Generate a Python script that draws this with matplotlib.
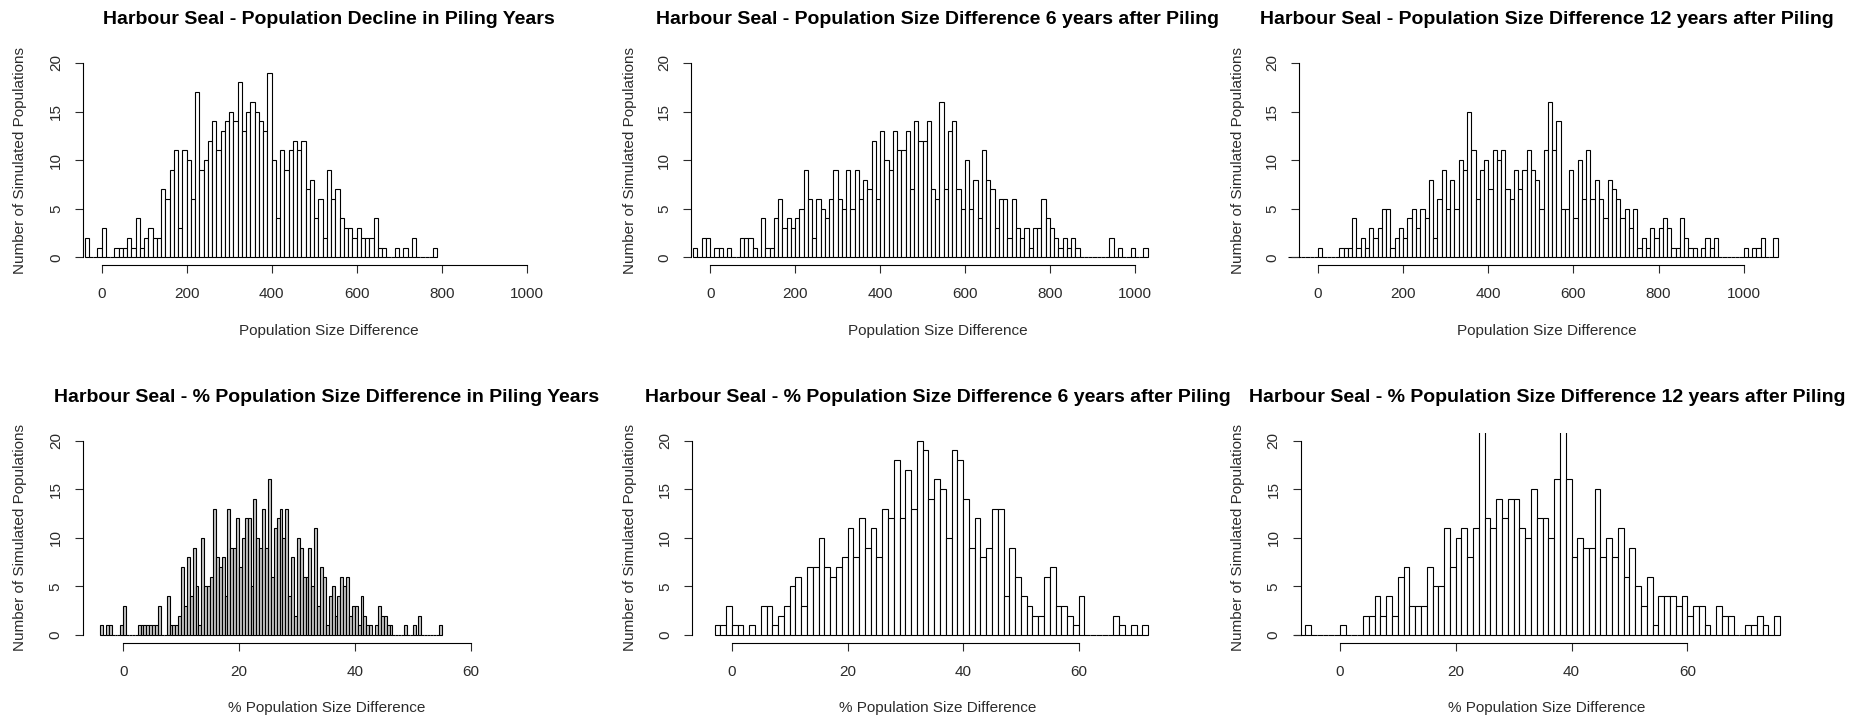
import matplotlib
matplotlib.use("Agg")
import matplotlib.pyplot as plt

plt.rcParams['font.family'] = ['Liberation Sans', 'DejaVu Sans']

W, H = 1852, 720

# counts per bin, read left to right
decline_start, decline_step = -40, 10
decline_counts = [2, 0, 0, 1, 3, 0, 0, 1, 1, 1, 2, 1, 4, 1, 2, 3, 2, 2, 7, 6,
                  9, 11, 3, 11, 10, 6, 17, 9, 10, 12, 14, 11, 13, 14, 15, 14, 18, 13, 15, 16,
                  15, 14, 13, 19, 10, 4, 11, 9, 11, 12, 11, 12, 7, 8, 4, 6, 2, 9, 6, 7,
                  4, 3, 3, 2, 3, 2, 2, 2, 4, 1, 1, 0, 0, 1, 0, 1, 0, 2, 0, 0,
                  0, 0, 1]

diff6_start, diff6_step = -40, 10
diff6_counts = [1, 0, 2, 2, 0, 1, 1, 0, 1, 0, 0, 2, 2, 2, 1, 0, 4, 1, 1, 4,
                6, 3, 4, 3, 4, 5, 9, 6, 2, 6, 5, 4, 6, 9, 6, 5, 9, 5, 9, 6,
                8, 7, 12, 6, 13, 10, 9, 13, 11, 11, 13, 7, 14, 12, 12, 14, 7, 6, 16, 7,
                13, 14, 7, 5, 10, 5, 8, 4, 11, 8, 7, 3, 6, 6, 2, 6, 3, 2, 3, 1,
                3, 3, 6, 4, 3, 2, 1, 2, 1, 2, 1, 0, 0, 0, 0, 0, 0, 0, 2, 0,
                1, 0, 0, 1, 0, 0, 1]

diff12_start, diff12_step = -70, 10
diff12_counts = [0, 0, 0, 0, 0, 0, 0, 1, 0, 0, 0, 0, 1, 1, 1, 4, 1, 2, 1, 3,
                 2, 3, 5, 5, 1, 2, 3, 2, 4, 5, 3, 5, 4, 8, 2, 6, 9, 5, 8, 5,
                 10, 9, 15, 11, 6, 9, 10, 7, 11, 10, 11, 7, 6, 9, 7, 9, 11, 9, 8, 5,
                 11, 16, 11, 14, 5, 5, 9, 4, 10, 6, 11, 6, 8, 6, 4, 8, 7, 6, 4, 5,
                 3, 5, 1, 2, 1, 3, 2, 3, 4, 3, 1, 1, 4, 2, 1, 1, 0, 1, 2, 1,
                 2, 0, 0, 0, 0, 0, 0, 1, 0, 1, 1, 2, 0, 0, 2]

pct_start, pct_step = -4, 0.5
pct_counts = [1, 0, 1, 1, 0, 0, 0, 1, 3, 0, 0, 0, 0, 1, 1, 1, 1, 1, 1, 1,
              3, 0, 0, 4, 1, 1, 1, 2, 7, 3, 8, 4, 9, 5, 1, 10, 5, 5, 6, 13,
              8, 7, 8, 4, 13, 9, 9, 12, 7, 10, 12, 12, 5, 14, 10, 9, 13, 9, 16, 6,
              11, 12, 13, 10, 13, 4, 8, 2, 10, 9, 6, 6, 9, 5, 11, 3, 7, 6, 1, 4,
              5, 2, 4, 6, 5, 6, 2, 3, 3, 1, 4, 2, 1, 1, 0, 1, 3, 2, 2, 1,
              1, 0, 0, 0, 0, 1, 0, 0, 1, 0, 2, 0, 0, 0, 0, 0, 0, 1]

pct6_start, pct6_step = -3, 1
pct6_counts = [1, 1, 3, 1, 1, 0, 1, 0, 3, 3, 1, 2, 3, 5, 6, 3, 7, 7, 10, 7,
               6, 7, 8, 11, 8, 12, 9, 11, 8, 13, 12, 18, 12, 17, 13, 20, 19, 14, 16, 15,
               10, 19, 18, 14, 9, 12, 8, 9, 13, 13, 4, 9, 6, 4, 3, 2, 2, 6, 7, 3,
               3, 2, 1, 4, 0, 0, 0, 0, 0, 2, 1, 0, 1, 0, 1]

pct12_start, pct12_step = -8, 1
pct12_counts = [0, 0, 1, 0, 0, 0, 0, 0, 1, 0, 0, 0, 2, 2, 4, 2, 4, 2, 6, 7,
                3, 3, 3, 7, 5, 5, 11, 7, 10, 11, 8, 11, 23, 12, 11, 14, 12, 14, 14, 11,
                10, 15, 12, 12, 10, 16, 23, 16, 8, 10, 9, 9, 15, 8, 10, 8, 11, 6, 9, 5,
                3, 6, 1, 4, 4, 4, 3, 4, 2, 3, 3, 1, 0, 3, 2, 2, 0, 0, 1, 1,
                2, 1, 0, 2]

size_ticks = [0, 200, 400, 600, 800, 1000]
pct_ticks = [0, 20, 40, 60]
count_ticks = [0, 5, 10, 15, 20]

fig = plt.figure(figsize=(W / 100, H / 100), dpi=100)
fig.patch.set_facecolor('white')

TXT = '#2b2b2b'


def panel(axis_px, zero_px, ppu, base_px, counts, start, step, xticks,
          title, xlabel, cx, title_y, xlabel_y, ylabel_x, fill='white'):
    ppc = 9.72
    ax_left = axis_px - 40
    ax_w = 560
    x_lo = (ax_left - zero_px) / ppu
    x_hi = (ax_left + ax_w - zero_px) / ppu
    ax_bot = base_px + 0.8 * ppc
    ax_h = 21.6 * ppc
    ax = fig.add_axes([ax_left / W, 1 - ax_bot / H, ax_w / W, ax_h / H])
    ax.patch.set_visible(False)

    edges = [start + i * step for i in range(len(counts))]
    ax.bar(edges, counts, width=step, align='edge', color=fill,
           edgecolor='black', linewidth=0.8)

    ax.set_xlim(x_lo, x_hi)
    ax.set_ylim(-0.8, 20.8)
    for s in ('top', 'right'):
        ax.spines[s].set_visible(False)
    ax.spines['left'].set_position(('data', (axis_px - zero_px) / ppu))
    ax.spines['left'].set_bounds(0, 20)
    ax.spines['bottom'].set_bounds(xticks[0], xticks[-1])
    for s in ('left', 'bottom'):
        ax.spines[s].set_linewidth(0.8)
    ax.set_xticks(xticks)
    ax.set_xticklabels([str(t) for t in xticks])
    ax.set_yticks(count_ticks)
    ax.set_yticklabels([str(t) for t in count_ticks], rotation=90, va='center')
    ax.tick_params(length=6, width=0.8, labelsize=11, colors=TXT)
    ax.tick_params(axis='x', pad=10)
    ax.tick_params(axis='y', pad=8.5)

    fig.text(cx / W, 1 - title_y / H, title, ha='center', va='center',
             fontsize=14, fontweight='bold', color='black')
    fig.text(cx / W, 1 - xlabel_y / H, xlabel, ha='center', va='center',
             fontsize=11, color=TXT)
    fig.text(ylabel_x / W, 1 - (base_px - 10 * ppc) / H,
             'Number of Simulated Populations', rotation=90,
             ha='center', va='center', fontsize=11, color=TXT)
    return ax


panel(83.3, 101.7, 0.425, 257.3, decline_counts, decline_start, decline_step,
      size_ticks, 'Harbour Seal - Population Decline in Piling Years',
      'Population Size Difference', 328.6, 20, 330.7, 20.4)
panel(691.2, 710.2, 0.4246, 257.3, diff6_counts, diff6_start, diff6_step,
      size_ticks, 'Harbour Seal - Population Size Difference 6 years after Piling',
      'Population Size Difference', 937.4, 20, 330.7, 629.9)
panel(1299.4, 1318.1, 0.4256, 257.3, diff12_counts, diff12_start, diff12_step,
      size_ticks, 'Harbour Seal - Population Size Difference 12 years after Piling',
      'Population Size Difference', 1546.4, 20, 330.7, 1237.9)

# the narrow 0.5 % bins read as a grey mass
panel(82.9, 123.2, 5.79, 635.0, pct_counts, pct_start, pct_step,
      pct_ticks, 'Harbour Seal - % Population Size Difference in Piling Years',
      '% Population Size Difference', 327.0, 398, 708.3, 20.4, fill='#c4c4c4')
panel(692.4, 731.9, 5.78, 635.0, pct6_counts, pct6_start, pct6_step,
      pct_ticks, 'Harbour Seal - % Population Size Difference 6 years after Piling',
      '% Population Size Difference', 937.4, 398, 708.3, 629.9)
panel(1300.6, 1339.9, 5.79, 635.0, pct12_counts, pct12_start, pct12_step,
      pct_ticks, 'Harbour Seal - % Population Size Difference 12 years after Piling',
      '% Population Size Difference', 1547.0, 398, 708.3, 1237.9)

fig.savefig('out.png', dpi=100, facecolor='white')
